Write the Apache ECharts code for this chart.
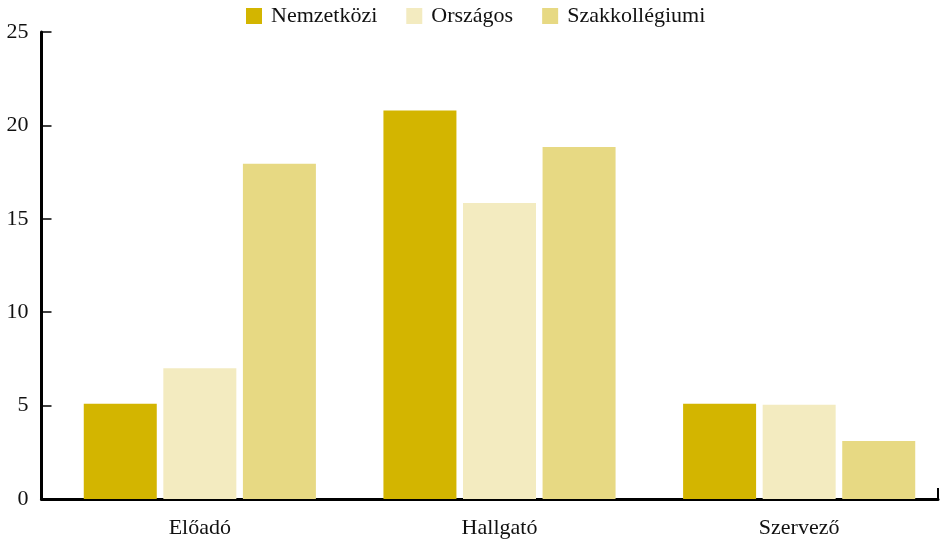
<!DOCTYPE html>
<html>
<head>
<meta charset="utf-8">
<script src="https://cdn.jsdelivr.net/npm/echarts@6/dist/echarts.min.js"></script>
<style>
  html, body { margin: 0; padding: 0; background: #fff; }
  #chart { width: 942px; height: 539px; }
</style>
</head>
<body>
<div id="chart"></div>
<script>
const categories = ['Előadó', 'Hallgató', 'Szervező'];
const seriesNames = ['Nemzetközi', 'Országos', 'Szakkollégiumi'];
const nemzetkozi = [5.1, 20.8, 5.1];
const orszagos = [7.0, 15.85, 5.05];
const szakkollegiumi = [17.95, 18.85, 3.1];
const colors = ['#d3b500', '#f3ebc0', '#e7d983'];

const font = '"Liberation Serif", "DejaVu Serif", serif';
const chart = echarts.init(document.getElementById('chart'));

const values = [nemzetkozi, orszagos, szakkollegiumi];

chart.setOption({
  animation: false,
  textStyle: { fontFamily: font },
  legend: {
    top: 5,
    left: 246,
    padding: 0,
    itemWidth: 16,
    itemHeight: 16,
    itemGap: 29,
    icon: 'rect',
    textStyle: { fontFamily: font, fontSize: 22, color: '#111', padding: [0, 0, 0, 4] },
    data: seriesNames
  },
  grid: [
    // axis frame
    { left: 41.5, right: 4, top: 32, bottom: 40, outerBoundsMode: 'none' },
    // bars
    { left: 50, width: 899, top: 32, bottom: 40, outerBoundsMode: 'none' }
  ],
  xAxis: [
    {
      gridIndex: 0,
      type: 'value',
      min: 0,
      max: 1,
      interval: 1,
      axisLine: { show: true, lineStyle: { color: '#000', width: 3 } },
      axisTick: { show: true, inside: true, length: 11, lineStyle: { color: '#000', width: 2 } },
      axisLabel: { show: false },
      splitLine: { show: false }
    },
    {
      gridIndex: 1,
      type: 'category',
      data: categories,
      axisLine: { show: false },
      axisTick: { show: false },
      axisLabel: { fontFamily: font, fontSize: 22, color: '#111', margin: 18 }
    }
  ],
  yAxis: [
    {
      gridIndex: 0,
      type: 'value',
      min: 0,
      max: 25,
      interval: 5,
      axisLine: { show: true, lineStyle: { color: '#000', width: 3 } },
      axisTick: { show: true, inside: true, length: 10, lineStyle: { color: '#000', width: 1.5 } },
      axisLabel: { fontFamily: font, fontSize: 22, color: '#111', margin: 13 },
      splitLine: { show: false }
    },
    {
      gridIndex: 1,
      type: 'value',
      min: 0,
      max: 25,
      interval: 5,
      show: false
    }
  ],
  series: seriesNames.map((name, i) => ({
    name,
    type: 'bar',
    xAxisIndex: 1,
    yAxisIndex: 1,
    barWidth: 73,
    barGap: '9%',
    itemStyle: { color: colors[i] },
    data: values[i]
  }))
});
</script>
</body>
</html>
